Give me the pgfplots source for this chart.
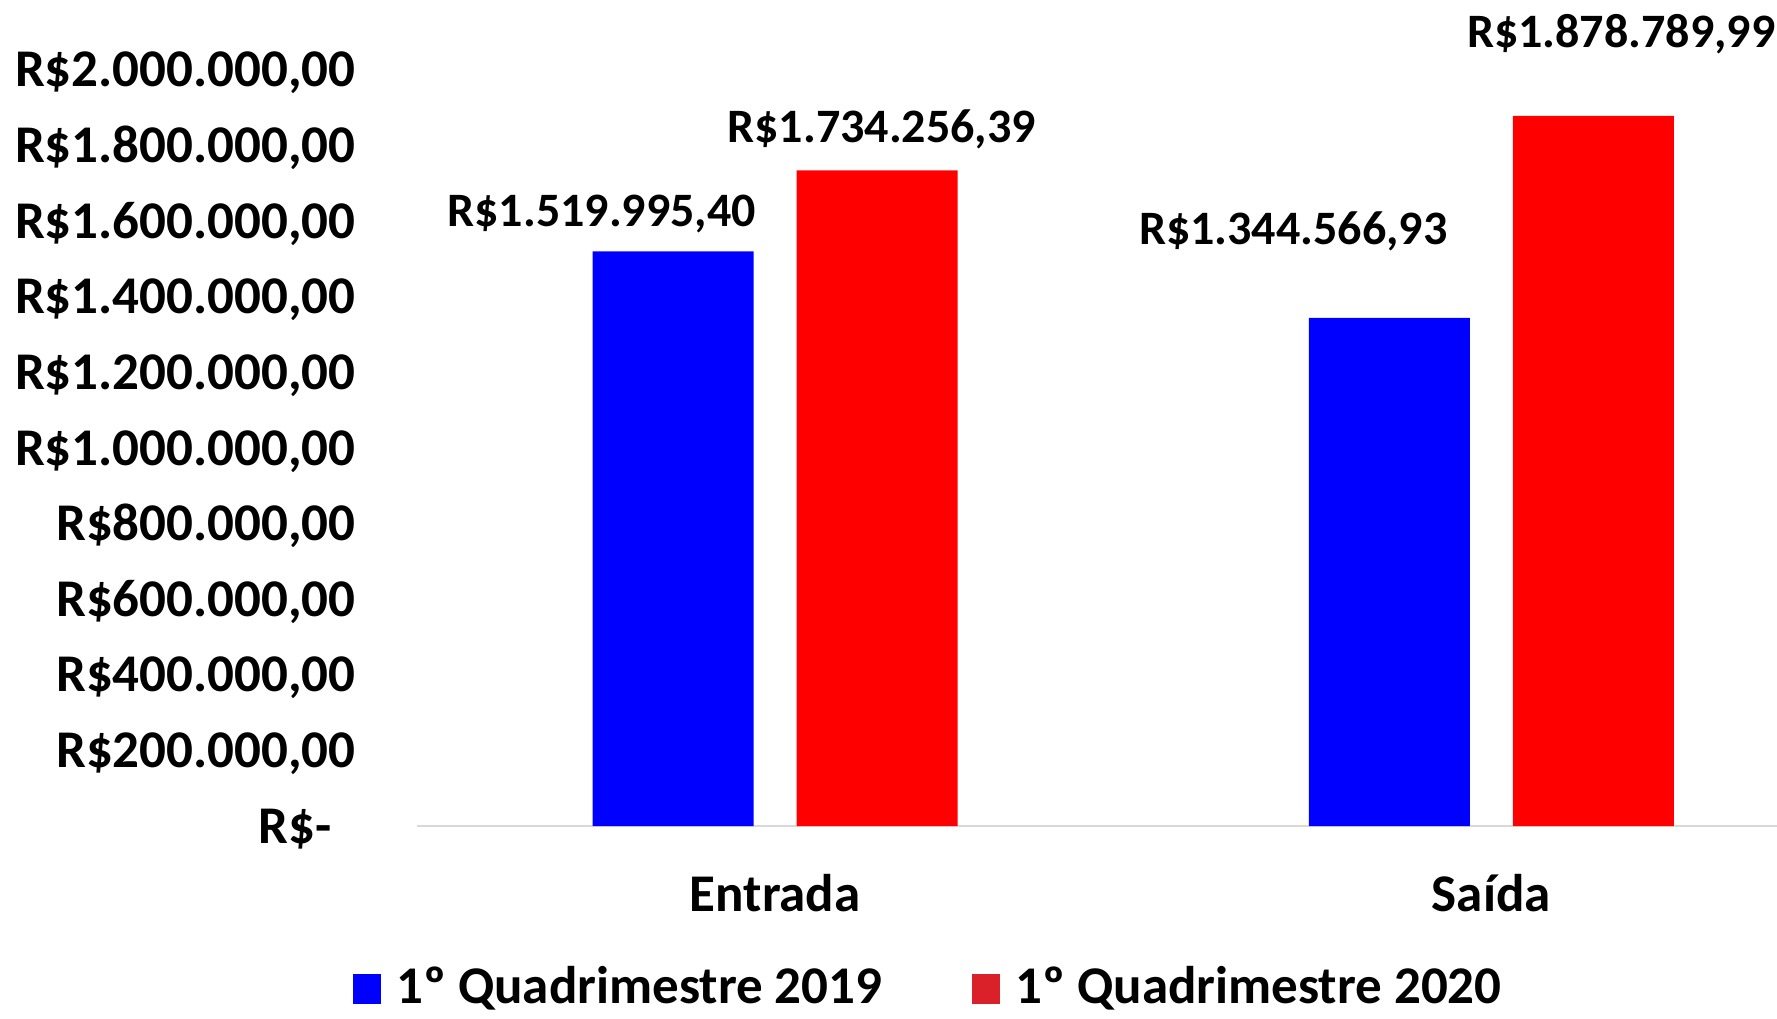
\documentclass[border=0pt]{standalone}
\usepackage{fontspec}
\setmainfont{Carlito}
\usepackage{pgfplots}
\pgfplotsset{compat=1.18}
\usepackage{pgfplotstable}
\definecolor{barblue}{RGB}{0,0,255}
\definecolor{barred}{RGB}{255,0,0}
\definecolor{legred}{RGB}{218,32,40}
\definecolor{axgray}{RGB}{217,217,217}

\pgfplotstableread{
x y dx dy lab
0 1519995.40 -35.7 18.5 {R\$1.519.995,40}
1 1344566.93 -48 43 {R\$1.344.566,93}
}\tblA
\pgfplotstableread{
x y dx dy lab
0 1734256.39 2.3 20.4 {R\$1.734.256,39}
1 1878789.99 14 41 {R\$1.878.789,99}
}\tblB

\begin{document}
\begin{tikzpicture}
\begin{axis}[
  name=ax,
  font=\fontsize{26.5}{30}\selectfont\bfseries,
  scale only axis,
  width=680pt, height=378pt,
  ymin=0, ymax=2000000,
  xmin=-0.5, xmax=1.399,
  scaled y ticks=false,
  axis lines*=left,
  y axis line style={draw=none},
  x axis line style={draw=axgray, line width=1pt, -},
  major tick length=0pt,
  ytick={0,200000,400000,600000,800000,1000000,1200000,1400000,1600000,1800000,2000000},
  yticklabels={{R\$-\kern12pt},{R\$200.000,00},{R\$400.000,00},{R\$600.000,00},{R\$800.000,00},{R\$1.000.000,00},{R\$1.200.000,00},{R\$1.400.000,00},{R\$1.600.000,00},{R\$1.800.000,00},{R\$2.000.000,00}},
  yticklabel style={anchor=base east, inner sep=0pt, xshift=-30.5pt, yshift=-8.5pt},
  xtick={0,1},
  xticklabels={Entrada,Saída},
  xticklabel style={anchor=center, inner sep=0pt, yshift=-33.5pt},
  ybar, bar width=80.5pt,
  legend style={draw=none, fill=none, legend columns=2, at={(0.3775,-0.2126)}, anchor=center,
    font=\fontsize{26.5}{30}\selectfont\bfseries,
    /tikz/every even column/.append style={column sep=42pt},
    /tikz/every odd column/.append style={column sep=4.5pt},
    nodes={inner sep=3pt}},
  legend image code/.code={\fill[#1] (0pt,-8.5pt) rectangle (14pt,6.5pt);},
  clip=false,
]
\addplot[fill=barblue, draw=none, bar shift=-51pt, forget plot,
  point meta=explicit symbolic, nodes near coords,
  visualization depends on={\thisrow{dx}\as\dx},
  visualization depends on={\thisrow{dy}\as\dy},
  every node near coord/.append style={anchor=center, xshift=\dx pt, yshift=\dy pt, text=black, inner sep=0pt, font=\fontsize{24}{28}\selectfont\bfseries}]
  table[x=x, y=y, meta=lab]{\tblA};
\addplot[fill=barred, draw=none, bar shift=51pt, forget plot,
  point meta=explicit symbolic, nodes near coords,
  visualization depends on={\thisrow{dx}\as\dx},
  visualization depends on={\thisrow{dy}\as\dy},
  every node near coord/.append style={anchor=center, xshift=\dx pt, yshift=\dy pt, text=black, inner sep=0pt, font=\fontsize{24}{28}\selectfont\bfseries}]
  table[x=x, y=y, meta=lab]{\tblB};
\addlegendimage{fill=barblue, draw=none}
\addlegendentry{1º Quadrimestre 2019}
\addlegendimage{fill=legred, draw=none}
\addlegendentry{1º Quadrimestre 2020}
\end{axis}
\pgfresetboundingbox
\useasboundingbox ([shift={(-208.5pt,-96pt)}]ax.south west) rectangle ([shift={(0pt,35pt)}]ax.north east);
\end{tikzpicture}
\end{document}
